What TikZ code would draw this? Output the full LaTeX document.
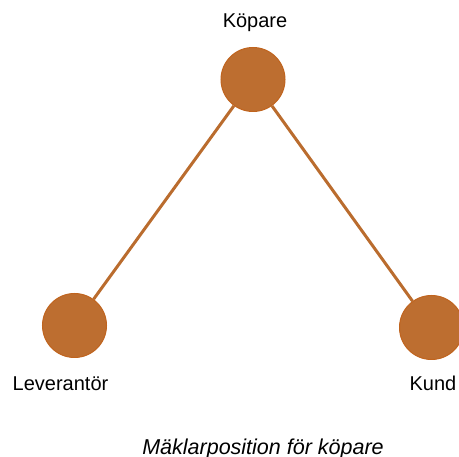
\documentclass[tikz,border=0pt]{standalone}
\usepackage{fontspec}
\setmainfont{Liberation Sans}
\definecolor{cfill}{RGB}{189,110,48}
\definecolor{cdraw}{RGB}{192,100,30}
\definecolor{cline}{RGB}{186,108,46}
\begin{document}
\begin{tikzpicture}[x=1pt,y=-1pt,
  party/.style={circle, minimum size=64pt, inner sep=0pt, fill=cfill, draw=cdraw, line width=1pt},
  lbl/.style={anchor=base, inner sep=0pt, font=\fontsize{20}{24}\selectfont},
  link/.style={draw=cline, line width=3pt}]
\useasboundingbox (0,0) rectangle (459,457);
\node[party] (kop) at (253,79.5) {};
\node[party] (lev) at (74.5,325.5) {};
\node[party] (kund) at (431.5,327.5) {};
\draw[link] (kop) -- (lev);
\draw[link] (kop) -- (kund);
\node[lbl] (tkop) at (255,28) {Köpare};
\node[lbl] (tlev) at (60.5,391) {Leverantör};
\node[lbl] (tkund) at (433,391) {Kund};
\node[lbl, font=\fontsize{21.5}{24}\selectfont\itshape] (cap) at (263,455) {Mäklarposition för köpare};
\end{tikzpicture}
\end{document}
